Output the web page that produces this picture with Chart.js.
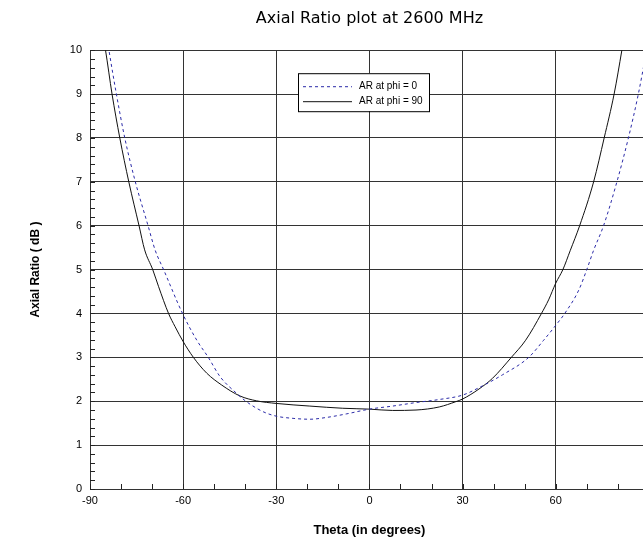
<!DOCTYPE html>
<html>
<head>
<meta charset="utf-8">
<title>Axial Ratio plot at 2600 MHz</title>
<script src="https://cdn.jsdelivr.net/npm/chart.js@4.4.1/dist/chart.umd.min.js"></script>
<style>
    html, body { margin: 0; padding: 0; background: #fff; overflow: hidden; }
    #wrap { position: relative; width: 660px; height: 543px; }
</style>
</head>
<body>
<div id="wrap"><canvas id="arChart"></canvas></div>
<script>
// AR at phi = 0 (dotted blue)
const thetaPhi0 = [-85, -83.9, -81.5, -78.8, -75.4, -71.3, -69, -66.3, -60.2, -55.6, -51.9, -48.1, -42.8, -39.8, -34.2, -30, -24.6, -19.2, -13.9, -7.5, 0, 7.5, 15, 22.5, 30, 35.3, 42.8, 51.3, 56.1, 60, 62.9, 67.4, 70, 72.2, 75.4, 79.7, 83.4, 86.6, 89, 90];
const arPhi0 = [10.5, 10, 9, 8, 7, 6, 5.44, 5, 4, 3.39, 3, 2.56, 2.18, 2, 1.76, 1.66, 1.61, 1.59, 1.63, 1.71, 1.82, 1.89, 1.97, 2.04, 2.14, 2.31, 2.6, 3, 3.39, 3.73, 4, 4.53, 5, 5.44, 6, 7, 8, 9, 9.9, 10.3];

// AR at phi = 90 (solid black)
const thetaPhi90 = [-86, -85, -82.9, -80.4, -77.5, -74.2, -72.4, -69.8, -67.9, -64.7, -62.6, -60, -56.7, -52.4, -47.6, -41.7, -36.4, -30, -19.2, -8.6, 0, 7.5, 15, 22.5, 27.8, 30, 35.3, 39.6, 45.7, 50.3, 55.4, 57.7, 60, 62.3, 64.7, 67.7, 72.2, 75.6, 78.8, 81.3, 82];
const arPhi90 = [10.4, 10, 9, 8, 7, 6, 5.45, 5, 4.61, 4, 3.7, 3.36, 3, 2.64, 2.37, 2.12, 2.01, 1.95, 1.89, 1.84, 1.82, 1.79, 1.8, 1.87, 1.99, 2.05, 2.28, 2.52, 3, 3.39, 4, 4.31, 4.69, 5, 5.44, 6, 7, 8, 9, 10, 10.3];

const seriesLabels = ["AR at phi = 0", "AR at phi = 90"];

// axis ranges
const thetaRange = [-90, 90];
const thetaMajor = 30;
const thetaMinor = 10;
const arRange = [0, 10];
const arMajor = 1;
const arMinor = 0.2;

const toPoints = (xs, ys) => xs.map((x, i) => ({ x: x, y: ys[i] }));

// small inward ticks along the left and bottom axes
const minorTicks = {
    id: "minorTicks",
    afterDatasetsDraw(chart) {
        const ctx = chart.ctx;
        const xs = chart.scales.x;
        const ys = chart.scales.y;
        const area = chart.chartArea;
        ctx.save();
        ctx.strokeStyle = "#222";
        ctx.lineWidth = 1;
        ctx.beginPath();
        const nY = Math.round((arRange[1] - arRange[0]) / arMinor);
        for (let i = 0; i <= nY; i++) {
            const py = Math.round(ys.getPixelForValue(arRange[0] + i * arMinor)) + 0.5;
            ctx.moveTo(area.left, py);
            ctx.lineTo(area.left + 5, py);
        }
        const nX = Math.round((thetaRange[1] - thetaRange[0]) / thetaMinor);
        for (let i = 0; i <= nX; i++) {
            const px = Math.round(xs.getPixelForValue(thetaRange[0] + i * thetaMinor)) + 0.5;
            ctx.moveTo(px, area.bottom);
            ctx.lineTo(px, area.bottom - 5);
        }
        ctx.stroke();
        ctx.restore();
    },
};

// boxed legend inside the plot, like the original
const boxLegend = {
    id: "boxLegend",
    afterDraw(chart) {
        const ctx = chart.ctx;
        const area = chart.chartArea;
        const bx = area.left + 208;
        const by = area.top + 23;
        const bw = 131;
        const bh = 38;
        ctx.save();
        ctx.fillStyle = "#fff";
        ctx.fillRect(bx, by, bw, bh);
        ctx.strokeStyle = "#000";
        ctx.lineWidth = 1;
        ctx.strokeRect(bx + 0.5, by + 0.5, bw, bh);
        ctx.font = "10px 'Liberation Sans', Arial, sans-serif";
        ctx.textBaseline = "middle";
        chart.data.datasets.forEach((ds, i) => {
            const ly = by + 13.5 + i * 15;
            ctx.beginPath();
            ctx.strokeStyle = ds.borderColor;
            ctx.setLineDash(ds.borderDash || []);
            ctx.moveTo(bx + 5, ly);
            ctx.lineTo(bx + 54, ly);
            ctx.stroke();
            ctx.setLineDash([]);
            ctx.fillStyle = "#000";
            ctx.fillText(ds.label, bx + 61, ly);
        });
        ctx.restore();
    },
};

const ctx = document.getElementById("arChart").getContext("2d");

const arChart = new Chart(ctx, {
    type: "line",
    data: {
        datasets: [
            {
                label: seriesLabels[0],
                data: toPoints(thetaPhi0, arPhi0),
                borderColor: "#2b2ba8",
                borderWidth: 1,
                borderDash: [3, 3],
                pointRadius: 0,
                cubicInterpolationMode: "monotone",
            },
            {
                label: seriesLabels[1],
                data: toPoints(thetaPhi90, arPhi90),
                borderColor: "#111",
                borderWidth: 1,
                pointRadius: 0,
                cubicInterpolationMode: "monotone",
            },
        ],
    },
    options: {
        responsive: true,
        maintainAspectRatio: false,
        animation: false,
        layout: { padding: { top: 1, right: 10, left: 0, bottom: 0 } },
        plugins: {
            legend: { display: false },
            tooltip: { enabled: false },
            title: {
                display: true,
                fullSize: false,
                text: "Axial Ratio plot at 2600 MHz",
                color: "#000",
                font: { family: "'DejaVu Sans', sans-serif", size: 16, weight: "normal" },
                padding: { top: 8, bottom: 22 },
            },
        },
        scales: {
            x: {
                type: "linear",
                min: thetaRange[0],
                max: thetaRange[1],
                ticks: {
                    stepSize: thetaMajor,
                    color: "#000",
                    padding: 5,
                    font: { family: "'Liberation Sans', Arial, sans-serif", size: 11 },
                },
                grid: { color: "#333", drawTicks: false },
                border: { color: "#333" },
                title: {
                    display: true,
                    text: "Theta (in degrees)",
                    color: "#000",
                    font: { family: "'Liberation Sans', Arial, sans-serif", size: 13, weight: "bold" },
                    padding: { top: 0, bottom: 5 },
                },
                afterFit: (scale) => { scale.height = 54; },
            },
            y: {
                type: "linear",
                min: arRange[0],
                max: arRange[1],
                ticks: {
                    stepSize: arMajor,
                    color: "#000",
                    padding: 8,
                    font: { family: "'Liberation Sans', Arial, sans-serif", size: 11 },
                },
                grid: { color: "#333", drawTicks: false },
                border: { color: "#333" },
                title: {
                    display: true,
                    text: "Axial Ratio ( dB )",
                    color: "#000",
                    font: { family: "'Liberation Sans', Arial, sans-serif", size: 12, weight: "bold" },
                    padding: { top: 28, bottom: 0 },
                },
                afterFit: (scale) => { scale.width = 90; },
            },
        },
    },
    plugins: [minorTicks, boxLegend],
});
</script>
</body>
</html>
